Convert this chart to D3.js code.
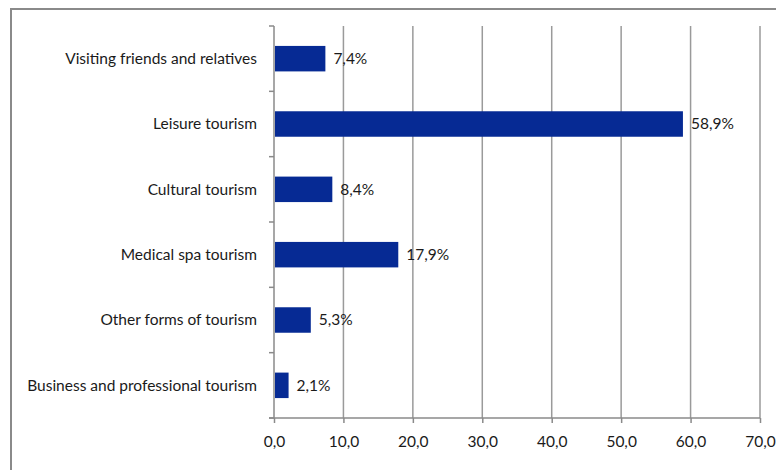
<!DOCTYPE html>
<html>
<head>
<meta charset="utf-8">
<script src="https://cdn.jsdelivr.net/npm/d3@7"></script>
<style>
  body { margin: 0; background: #fff; }
  svg text { font-family: Lato, "Open Sans", sans-serif; fill: #1a1a1a; }
</style>
</head>
<body>
<div id="chart"></div>
<script>
var categories = [
  "Visiting friends and relatives",
  "Leisure tourism",
  "Cultural tourism",
  "Medical spa tourism",
  "Other forms of tourism",
  "Business and professional tourism"
];
var values = [7.4, 58.9, 8.4, 17.9, 5.3, 2.1];
var xTicks = [0, 10, 20, 30, 40, 50, 60, 70];

var width = 776, height = 470;
var margin = {top: 26, right: 16, bottom: 52, left: 274};
var fontSize = 15.5;

var svg = d3.select("#chart").append("svg")
  .attr("width", width)
  .attr("height", height);

// outer frame
svg.append("rect")
  .attr("x", 11).attr("y", 9)
  .attr("width", 790).attr("height", 480)
  .attr("fill", "none")
  .attr("stroke", "#8a8a8a")
  .attr("stroke-width", 2);

var x = d3.scaleLinear()
  .domain([0, 70])
  .range([margin.left, width - margin.right]);

var y = d3.scaleBand()
  .domain(categories)
  .range([margin.top, height - margin.bottom])
  .paddingInner(0.61)
  .paddingOuter(0.305);

var data = categories.map(function (c, i) {
  return {name: c, value: values[i]};
});

// vertical gridlines
svg.append("g")
  .selectAll("line")
  .data(xTicks.slice(1))
  .enter().append("line")
  .attr("x1", function (d) { return x(d); })
  .attr("x2", function (d) { return x(d); })
  .attr("y1", margin.top)
  .attr("y2", height - margin.bottom)
  .attr("stroke", "#9a9a9a")
  .attr("stroke-width", 1.5);

// x axis
var xAxis = svg.append("g")
  .attr("transform", "translate(0," + (height - margin.bottom) + ")")
  .call(d3.axisBottom(x)
    .tickValues(xTicks)
    .tickSize(5)
    .tickSizeOuter(0)
    .tickPadding(13)
    .tickFormat(function (d) { return d3.format(".1f")(d).replace(".", ","); }));
xAxis.select(".domain").attr("stroke", "#8a8a8a").attr("stroke-width", 1.5)
  .attr("d", "M" + (margin.left - 5) + ",0H" + x(70));
xAxis.selectAll(".tick line").attr("stroke", "#8a8a8a").attr("stroke-width", 1.5);
xAxis.selectAll("text").attr("font-size", fontSize).style("font-family", "Lato, sans-serif").attr("fill", "#1a1a1a");

// y axis with category boundary ticks
var bandStep = y.step();
var boundaries = d3.range(categories.length + 1).map(function (i) {
  return margin.top + i * bandStep;
});
var yAxis = svg.append("g");
yAxis.append("line")
  .attr("x1", margin.left).attr("x2", margin.left)
  .attr("y1", margin.top).attr("y2", height - margin.bottom)
  .attr("stroke", "#8a8a8a").attr("stroke-width", 1.5);
yAxis.selectAll("line.tk")
  .data(boundaries)
  .enter().append("line")
  .attr("class", "tk")
  .attr("x1", margin.left - 5).attr("x2", margin.left)
  .attr("y1", function (d) { return d; })
  .attr("y2", function (d) { return d; })
  .attr("stroke", "#8a8a8a").attr("stroke-width", 1.5);

yAxis.selectAll("text")
  .data(categories)
  .enter().append("text")
  .attr("x", margin.left - 17)
  .attr("y", function (d) { return y(d) + y.bandwidth() / 2; })
  .attr("dy", "0.35em")
  .attr("text-anchor", "end")
  .attr("font-size", fontSize)
  .text(function (d) { return d; });

// bars
svg.append("g")
  .selectAll("rect")
  .data(data)
  .enter().append("rect")
  .attr("x", x(0) + 1)
  .attr("y", function (d) { return y(d.name); })
  .attr("width", function (d) { return x(d.value) - x(0) - 1; })
  .attr("height", y.bandwidth())
  .attr("fill", "#062a94");

// value labels
svg.append("g")
  .selectAll("text")
  .data(data)
  .enter().append("text")
  .attr("x", function (d) { return x(d.value) + 8; })
  .attr("y", function (d) { return y(d.name) + y.bandwidth() / 2; })
  .attr("dy", "0.35em")
  .attr("font-size", fontSize)
  .text(function (d) { return d3.format(".1f")(d.value).replace(".", ",") + "%"; });
</script>
</body>
</html>
